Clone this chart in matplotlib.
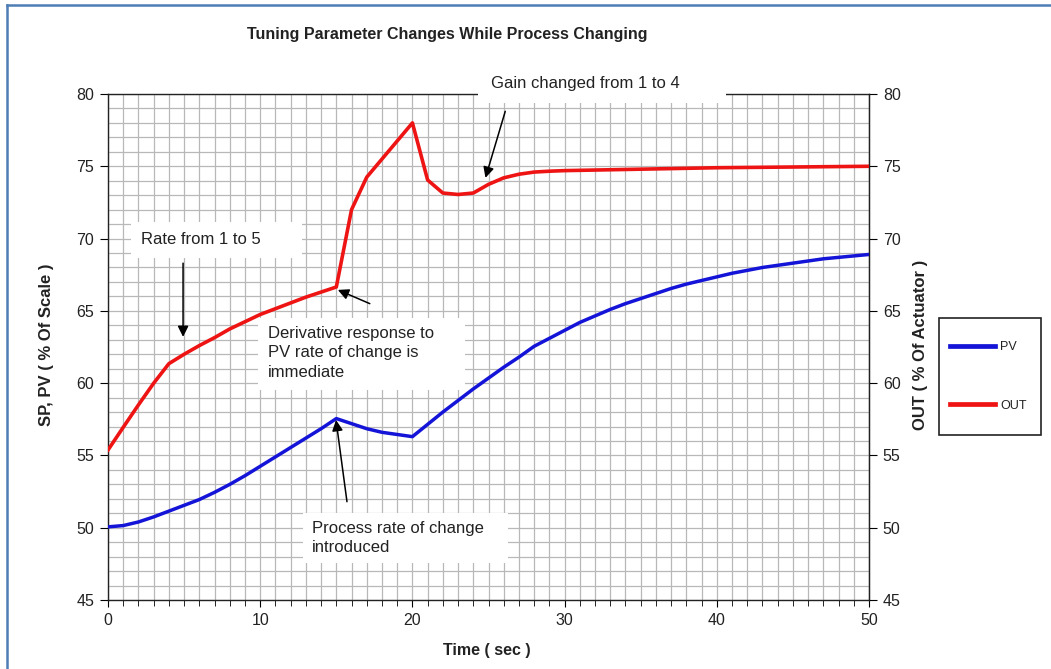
import matplotlib
matplotlib.use("Agg")
import matplotlib.pyplot as plt
from matplotlib.lines import Line2D
from matplotlib.patches import Rectangle
from matplotlib.ticker import MultipleLocator

plt.rcParams['font.family'] = ['Liberation Sans', 'DejaVu Sans']

# time axis (sec)
time_s = list(range(0, 51))

# PV ( % of scale ) at 1 s steps
pv = [50.06, 50.15, 50.4, 50.75, 51.15, 51.55, 51.95, 52.45, 53.0, 53.6,
      54.25, 54.9, 55.55, 56.2, 56.85, 57.55, 57.2, 56.85, 56.6, 56.45,
      56.3, 57.15, 58.0, 58.8, 59.6, 60.35, 61.1, 61.8, 62.55, 63.1,
      63.65, 64.2, 64.65, 65.1, 65.5, 65.85, 66.2, 66.55, 66.85, 67.1,
      67.35, 67.6, 67.8, 68.0, 68.15, 68.3, 68.45, 68.6, 68.7, 68.8,
      68.9]

# OUT ( % of actuator )
out = [55.38, 56.95, 58.5, 60.0, 61.35, 62.0, 62.6, 63.15, 63.75, 64.25,
       64.75, 65.15, 65.55, 65.95, 66.3, 66.65, 72.0, 74.25, 75.5, 76.75,
       78.0, 74.05, 73.15, 73.05, 73.15, 73.75, 74.2, 74.45, 74.6, 74.66,
       74.7, 74.72, 74.74, 74.76, 74.78, 74.8, 74.82, 74.84, 74.86, 74.88,
       74.9, 74.91, 74.92, 74.93, 74.94, 74.95, 74.96, 74.97, 74.98, 74.99,
       75.0]

# annotation texts
note_text = ["Gain changed from 1 to 4",
             "Rate from 1 to 5",
             "Derivative response to\nPV rate of change is\nimmediate",
             "Process rate of change\nintroduced"]

fig = plt.figure(figsize=(10.51, 6.69), dpi=100)
ax = fig.add_axes([0.1028, 0.1031, 0.7240, 0.7564])

ax.plot(time_s, pv, color='#1414d8', lw=2.5, label='PV', zorder=3,
        solid_joinstyle='round')
ax.plot(time_s, out, color='#ee1414', lw=2.6, label='OUT', zorder=3,
        solid_joinstyle='round')

ax.set_xlim(0, 50)
ax.set_ylim(45, 80)
ax.xaxis.set_major_locator(MultipleLocator(10))
ax.xaxis.set_minor_locator(MultipleLocator(1))
ax.yaxis.set_major_locator(MultipleLocator(5))
ax.yaxis.set_minor_locator(MultipleLocator(1))
ax.grid(True, which='both', color='#b8b8b8', lw=0.9)
ax.set_axisbelow(True)
ax.tick_params(axis='x', which='major', direction='out', length=5, labelsize=11.5, pad=4,
               labelcolor='#222222')
ax.tick_params(axis='x', which='minor', direction='out', length=4)
ax.tick_params(axis='y', which='major', direction='out', length=6, labelsize=11.5, pad=4,
               labelcolor='#222222')
ax.tick_params(axis='y', which='minor', length=0)
for s in ax.spines.values():
    s.set_color('#222222')
    s.set_linewidth(1.0)

ax2 = ax.twinx()
ax2.set_ylim(45, 80)
ax2.yaxis.set_major_locator(MultipleLocator(5))
ax2.tick_params(axis='y', direction='out', length=6, labelsize=11.5, pad=4,
                labelcolor='#222222')
for name in ['top', 'bottom', 'left']:
    ax2.spines[name].set_visible(False)
ax2.spines['right'].set_color('#222222')

# white text boxes (x0, y0, x1, y1 in data units), text anchor, arrow tail, arrow head
boxes = [(24.3, 79.38, 40.6, 81.6), (1.5, 68.66, 12.75, 71.15),
         (9.86, 59.53, 23.46, 64.51), (12.8, 47.57, 26.28, 51.02)]
text_pos = [(25.16, 80.75), (2.17, 69.97), (10.51, 62.09), (13.4, 49.3)]
tails = [(26.1, 78.8), (4.93, 68.3), (17.2, 65.5), (15.7, 51.8)]
heads = [(24.8, 74.2), (4.93, 63.2), (15.1, 66.45), (14.98, 57.45)]

for txt, (x0, y0, x1, y1), tp, tail, head in zip(note_text, boxes, text_pos, tails, heads):
    ax2.add_patch(Rectangle((x0, y0), x1 - x0, y1 - y0, fc='white', ec='none',
                            zorder=5, clip_on=False))
    ax2.text(tp[0], tp[1], txt, fontsize=12, color='#222222', ha='left', va='center',
             linespacing=1.35, zorder=6, clip_on=False)
    ax2.annotate('', xy=head, xytext=tail, zorder=7, annotation_clip=False,
                 arrowprops=dict(arrowstyle='-|>', color='black', lw=1.1,
                                 mutation_scale=16, shrinkA=0, shrinkB=0))

fig.text(0.4253, 0.949, "Tuning Parameter Changes While Process Changing",
         ha='center', va='center', fontsize=11.5, fontweight='bold', color='#222222')
fig.text(0.4634, 0.027, "Time ( sec )", ha='center', va='center',
         fontsize=11.5, fontweight='bold', color='#222222')
fig.text(0.0447, 0.484, "SP, PV ( % Of Scale )", ha='center', va='center',
         rotation=90, fontsize=12, fontweight='bold', color='#222222')
fig.text(0.8763, 0.484, "OUT ( % Of Actuator )", ha='center', va='center',
         rotation=90, fontsize=12, fontweight='bold', color='#222222')

# legend: frame drawn by hand, entries placed inside it
fig.add_artist(Rectangle((0.8934, 0.3498), 0.0971, 0.1749, transform=fig.transFigure,
                         fc='white', ec='#222222', lw=1.2))
h, l = ax.get_legend_handles_labels()
leg = fig.legend(h, l, loc='center left', bbox_to_anchor=(0.9039, 0.4372),
                 fontsize=9, handlelength=3.6, labelspacing=3.7, handletextpad=0.4,
                 borderpad=0, borderaxespad=0, frameon=False)
for line in leg.get_lines():
    line.set_linewidth(3.4)
for t in leg.get_texts():
    t.set_color('#222222')

# page border (blue, top and left)
fig.add_artist(Line2D([0.0067, 1.0], [0.9925, 0.9925], color='#4f7db5', lw=1.8))
fig.add_artist(Line2D([0.0067, 0.0067], [0.0, 0.9925], color='#4f7db5', lw=1.8))

fig.savefig('out.png', dpi=100)
